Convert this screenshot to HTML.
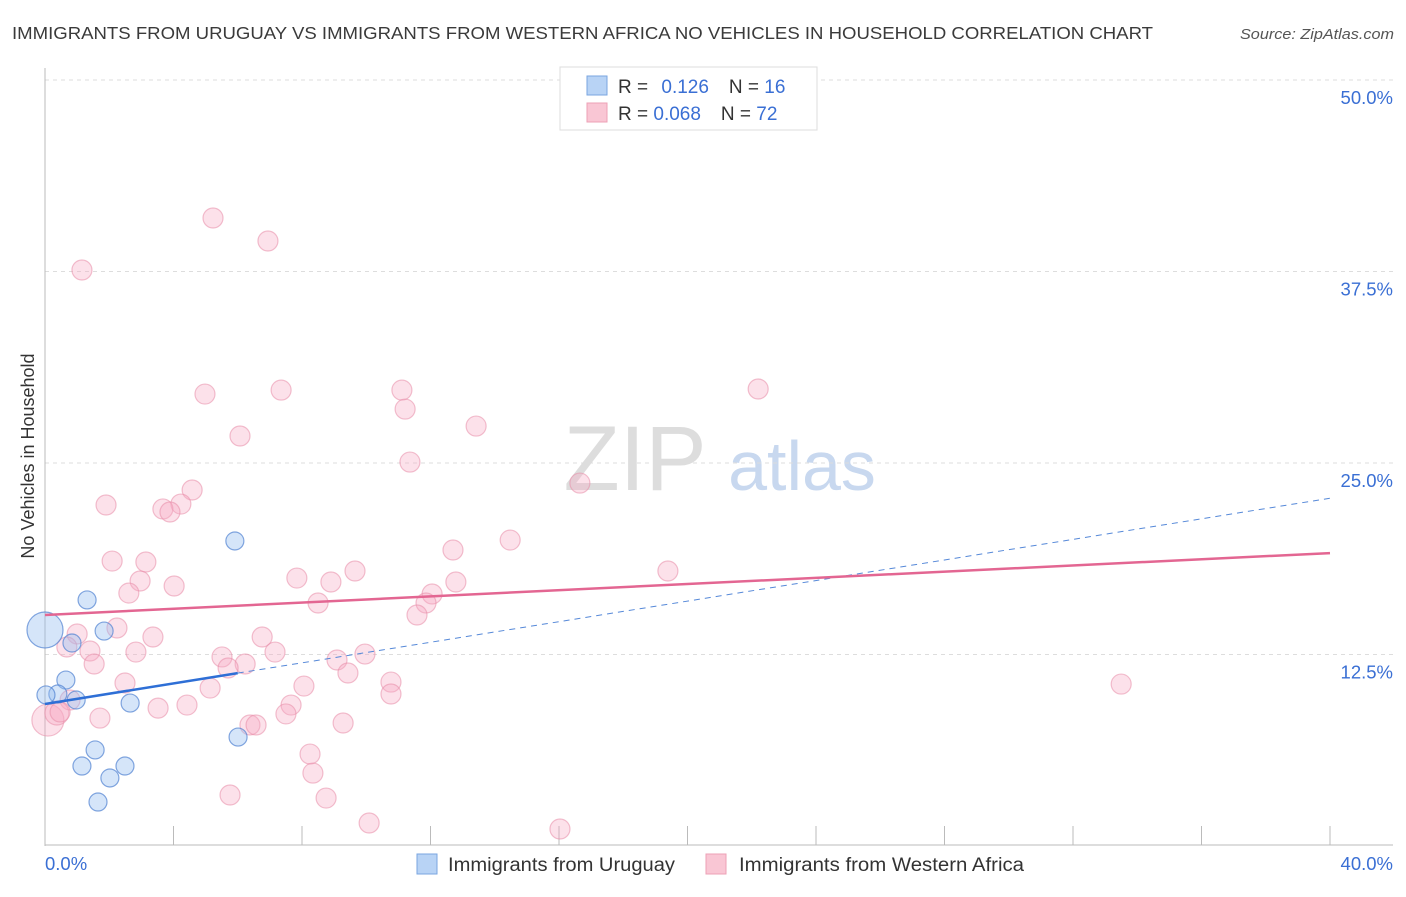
<!DOCTYPE html>
<html><head><meta charset="utf-8"><style>
body{margin:0;background:#fff;font-family:"Liberation Sans",sans-serif}
svg text{font-family:"Liberation Sans",sans-serif}
</style></head><body>
<svg id="chart" width="1406" height="892" viewBox="0 0 1406 892" xmlns="http://www.w3.org/2000/svg">
<text x="12" y="39" font-size="17.5" fill="#3a3a3a" textLength="1141" lengthAdjust="spacingAndGlyphs">IMMIGRANTS FROM URUGUAY VS IMMIGRANTS FROM WESTERN AFRICA NO VEHICLES IN HOUSEHOLD CORRELATION CHART</text>
<text x="1240" y="39" font-size="15" fill="#555" font-style="italic" textLength="154" lengthAdjust="spacingAndGlyphs">Source: ZipAtlas.com</text>
<g>
<text x="635" y="490" font-size="92" fill="#ddd" text-anchor="middle" font-family="Liberation Serif,serif">ZIP</text>
<text x="802" y="490" font-size="70" fill="#c8d8ef" text-anchor="middle">atlas</text>
</g>
<g id="grid"></g>
<g id="axes"></g>
<g id="marks"></g>
<text transform="translate(34,456) rotate(-90)" font-size="18" fill="#333" text-anchor="middle">No Vehicles in Household</text>
<g>
<rect x="560" y="67" width="257" height="63" fill="#fff" stroke="#ddd"/>
<rect x="587" y="76" width="20" height="19" fill="#b8d3f5" stroke="#7aa6e0"/>
<rect x="587" y="103" width="20" height="19" fill="#f9c6d4" stroke="#eda0b6"/>
<text x="618" y="93" font-size="19" fill="#333">R = <tspan fill="#3a6fd4" dx="8">0.126</tspan><tspan dx="20" fill="#333">N = </tspan><tspan fill="#3a6fd4">16</tspan></text>
<text x="618" y="120" font-size="19" fill="#333">R = <tspan fill="#3a6fd4">0.068</tspan><tspan dx="20" fill="#333">N = </tspan><tspan fill="#3a6fd4">72</tspan></text>
</g>
<g>
<rect x="417" y="854" width="20" height="20" fill="#b8d3f5" stroke="#7aa6e0"/>
<text x="448" y="871" font-size="19" fill="#333" textLength="227" lengthAdjust="spacingAndGlyphs">Immigrants from Uruguay</text>
<rect x="706" y="854" width="20" height="20" fill="#f9c6d4" stroke="#eda0b6"/>
<text x="739" y="871" font-size="19" fill="#333" textLength="285" lengthAdjust="spacingAndGlyphs">Immigrants from Western Africa</text>
</g>
</svg>
<script>
const yTicks=[12.5,25,37.5,50];
const yTickLabels=["12.5%","25.0%","37.5%","50.0%"];
const xTicks=[0,4,8,12,16,20,24,28,32,36,40];
const uruguayX=[0,1.31,1.84,0.84,0.65,0.40,0.03,0.97,2.65,5.91,6.01,1.56,1.15,2.49,2.02,1.65];
const uruguayY=[14.1,16.06,14.03,13.25,10.83,9.92,9.86,9.53,9.33,19.91,7.11,6.27,5.22,5.22,4.44,2.87];
const uruguayR=[18,9,9,9,9,9,9,9,9,9,9,9,9,9,9,9];
const africaX=[5.23,6.94,1.15,4.98,7.35,11.11,11.21,22.2,6.07,13.42,11.36,16.65,1.9,4.58,4.23,3.67,3.89,14.48,12.7,2.09,3.14,19.39,9.65,7.84,8.9,2.96,12.79,4.02,2.61,12.05,11.86,8.5,11.58,2.24,1.0,3.36,6.76,0.68,1.4,2.83,7.16,9.96,5.51,9.09,1.53,6.23,5.7,9.43,2.49,10.77,33.5,8.06,5.14,10.77,0.78,7.66,4.42,3.52,1.71,7.5,6.38,6.57,9.28,0.09,0.37,8.25,8.34,5.76,8.75,10.09,16.03,0.47];
const africaY=[40.99,39.49,37.6,29.5,29.76,29.76,28.52,29.83,26.76,27.41,25.06,23.69,22.26,23.24,22.32,22.0,21.8,19.97,19.32,18.6,18.54,17.95,17.95,17.49,17.23,17.3,17.23,16.97,16.51,16.45,15.86,15.86,15.08,14.23,13.84,13.64,13.64,12.99,12.73,12.66,12.66,12.53,12.34,12.14,11.88,11.88,11.62,11.29,10.64,10.7,10.57,10.44,10.31,9.92,9.53,9.2,9.2,9.0,8.35,8.62,7.9,7.9,8.03,8.22,8.68,6.0,4.76,3.33,3.13,1.5,1.11,8.75];
const uruguayTrend=[9.27,22.7];
const uruguaySolidEnd=6.0;
const africaTrend=[15.08,19.12];
const NS="http://www.w3.org/2000/svg";
const X=v=>45+v/40*1285;
const Y=v=>846-v/50*766;
function mk(tag,attrs,parent){const e=document.createElementNS(NS,tag);for(const k in attrs)e.setAttribute(k,attrs[k]);parent.appendChild(e);return e;}
const grid=document.getElementById('grid'),axes=document.getElementById('axes'),marks=document.getElementById('marks');
yTicks.forEach((t,i)=>{
 const l=mk('line',{x1:45,x2:1393,y1:Y(t),y2:Y(t),stroke:'#ddd','stroke-dasharray':'4,4'},grid);
 
 
 const tx=mk('text',{x:1393,y:Y(t)+24,'font-size':18.5,fill:'#3a6fd4','text-anchor':'end'},axes);
 tx.textContent=yTickLabels[i];
 
 
});
const ax=mk('line',{x1:45,x2:45,y1:68,y2:846,stroke:'#bbb'},axes);


const bx=mk('line',{x1:45,x2:1393,y1:845,y2:845,stroke:'#bbb'},axes);


xTicks.forEach(t=>{
 const l=mk('line',{x1:X(t),x2:X(t),y1:826,y2:845,stroke:'#bbb'},axes);
 
 
});
const x0=mk('text',{x:45,y:870,'font-size':18.5,fill:'#3a6fd4'},axes);x0.textContent='0.0%';


const x1=mk('text',{x:1393,y:870,'font-size':18.5,fill:'#3a6fd4','text-anchor':'end'},axes);x1.textContent='40.0%';


africaX.forEach((v,i)=>{
 const r=i===63?16:(i===64?12:10);
 const c=mk('circle',{cx:X(v),cy:Y(africaY[i]),r:r,fill:'rgba(246,170,194,0.35)',stroke:'rgba(232,140,168,0.55)','stroke-width':1.2},marks);
 
 
});
uruguayX.forEach((v,i)=>{
 const c=mk('circle',{cx:X(v),cy:Y(uruguayY[i]),r:uruguayR[i],fill:'rgba(150,190,240,0.4)',stroke:'rgba(80,130,210,0.7)','stroke-width':1.2},marks);
 
 
});
const ut=v=>uruguayTrend[0]+(uruguayTrend[1]-uruguayTrend[0])*v/40;
const ud=mk('line',{x1:X(uruguaySolidEnd),y1:Y(ut(uruguaySolidEnd)),x2:X(40),y2:Y(uruguayTrend[1]),stroke:'#5588d8','stroke-width':1,'stroke-dasharray':'6,5'},marks);


const us=mk('line',{x1:X(0),y1:Y(uruguayTrend[0]),x2:X(uruguaySolidEnd),y2:Y(ut(uruguaySolidEnd)),stroke:'#2e6fd6','stroke-width':2.5},marks);


const at=mk('line',{x1:X(0),y1:Y(africaTrend[0]),x2:X(40),y2:Y(africaTrend[1]),stroke:'#e36692','stroke-width':2.5},marks);


</script>
</body></html>
